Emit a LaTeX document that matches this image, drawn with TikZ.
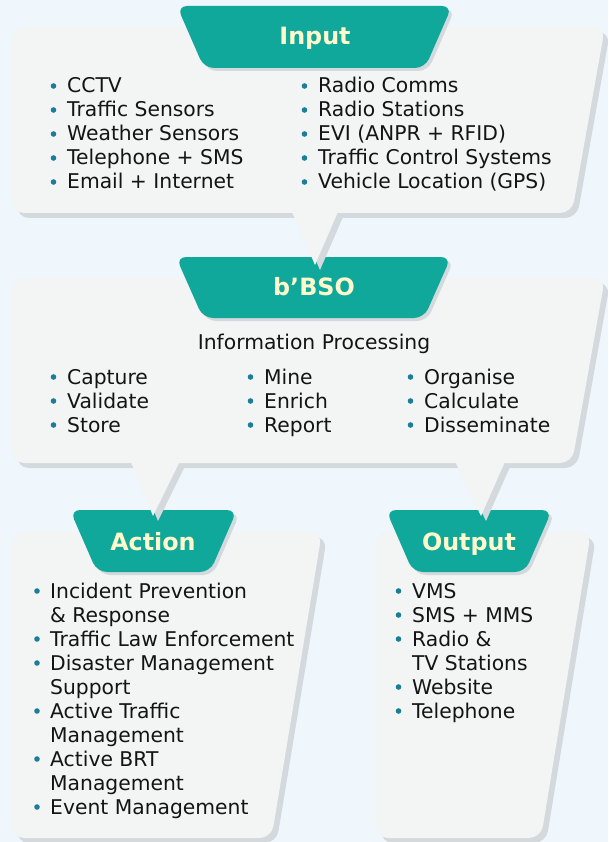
\documentclass[tikz,border=0pt]{standalone}
\usepackage{fontspec}
\setmainfont{DejaVu Sans}
\definecolor{bgc}{HTML}{EFF7FC}
\definecolor{panelc}{HTML}{F3F4F4}
\definecolor{shadec}{HTML}{D3D9DC}
\definecolor{tealc}{HTML}{10A89B}
\definecolor{titlec}{HTML}{FFF9CC}
\definecolor{bulc}{HTML}{1B7D96}
\definecolor{txtc}{HTML}{141414}
\begin{document}
\begin{tikzpicture}[x=1pt,y=-1pt,
  panelround/.style={rounded corners=12pt},
  tabshape/.style={rounded corners=10pt},
  bulletdot/.style={fill=bulc},
  titletext/.style={font=\fontsize{23.8}{28}\selectfont\bfseries, text=titlec, inner sep=0pt, anchor=base},
  listtext/.style={font=\fontsize{20.3}{24}\selectfont, text=txtc, inner sep=0pt, anchor=base west},
  headtext/.style={font=\fontsize{20.3}{24}\selectfont, text=txtc, inner sep=0pt, anchor=base}]
\useasboundingbox (0,0) rectangle (608,842);
\fill[bgc] (0,0) rectangle (608,842);

% ---------- Action and Output panels ----------
\foreach \d/\c in {5/shadec,0/panelc}{
  \fill[\c, panelround, shift={(\d,\d)}] (12,532) -- (322,532) -- (271.5,838) -- (12,838) -- cycle;
  \fill[\c, panelround, shift={(\d,\d)}] (376,532) -- (591,532) -- (541,838) -- (376,838) -- cycle;
}
% tabs Action / Output
\foreach \d/\c in {3/shadec,0/tealc}{
  \fill[\c, tabshape, shift={(\d,\d)}] (70,510) -- (237,510) -- (210,572) -- (97,572) -- cycle;
  \fill[\c, tabshape, shift={(\d,\d)}] (386,510) -- (552,510) -- (525,572) -- (413,572) -- cycle;
}

% ---------- b'BSO panel ----------
\foreach \d/\c in {5/shadec,0/panelc}{
  \fill[\c, panelround, shift={(\d,\d)}] (12,278) -- (605,278) -- (572,463) -- (12,463) -- cycle;
  \fill[\c, shift={(\d,\d)}] (128,455) -- (153,516) -- (183,455) -- cycle;
  \fill[\c, shift={(\d,\d)}] (452,455) -- (481,516) -- (508,455) -- cycle;
}
\foreach \d/\c in {3/shadec,0/tealc}{
  \fill[\c, tabshape, shift={(\d,\d)}] (176,257) -- (451,257) -- (424,318) -- (203,318) -- cycle;
}

% ---------- Input panel ----------
\foreach \d/\c in {5/shadec,0/panelc}{
  \fill[\c, panelround, shift={(\d,\d)}] (12,27) -- (605,27) -- (572,213) -- (12,213) -- cycle;
  \fill[\c, shift={(\d,\d)}] (289,205) -- (315,265) -- (341,205) -- cycle;
}
\foreach \d/\c in {3/shadec,0/tealc}{
  \fill[\c, tabshape, shift={(\d,\d)}] (177,6) -- (452,6) -- (425,68) -- (204,68) -- cycle;
}

% ---------- titles ----------
\node[titletext] (tinput) at (315,45) {Input};
\node[titletext] (tbbso) at (314,295) {b’BSO};
\node[titletext] (taction) at (153,550) {Action};
\node[titletext] (toutput) at (469,550) {Output};

% ---------- bullets ----------
\foreach \x in {53.5,304.5}
  \foreach \y in {86,110,134,158,182}
    \fill[bulletdot] (\x,\y) circle (2.8);
\foreach \x in {53.5,250.5,410.5}
  \foreach \y in {377,401,425}
    \fill[bulletdot] (\x,\y) circle (2.8);
\foreach \y in {591,639,663,711,759,807}
  \fill[bulletdot] (37,\y) circle (2.8);
\foreach \y in {591,615,639,687,711}
  \fill[bulletdot] (398.5,\y) circle (2.8);

% ---------- Input lists ----------
\node[listtext] (in1) at (67,93) {\begin{tabular}[t]{@{}l@{}}
CCTV\\ Traffic Sensors\\ Weather Sensors\\ Telephone + SMS\\ Email + Internet
\end{tabular}};
\node[listtext] (in2) at (318,93) {\begin{tabular}[t]{@{}l@{}}
Radio Comms\\ Radio Stations\\ EVI (ANPR + RFID)\\ Traffic Control Systems\\ Vehicle Location (GPS)
\end{tabular}};

% ---------- b'BSO content ----------
\node[headtext] (ip) at (314,349) {Information Processing};
\node[listtext] (bb1) at (67,384) {\begin{tabular}[t]{@{}l@{}}
Capture\\ Validate\\ Store
\end{tabular}};
\node[listtext] (bb2) at (264,384) {\begin{tabular}[t]{@{}l@{}}
Mine\\ Enrich\\ Report
\end{tabular}};
\node[listtext] (bb3) at (424,384) {\begin{tabular}[t]{@{}l@{}}
Organise\\ Calculate\\ Disseminate
\end{tabular}};

% ---------- Action list ----------
\node[listtext] (act) at (50,598) {\begin{tabular}[t]{@{}l@{}}
Incident Prevention\\ \& Response\\ Traffic Law Enforcement\\ Disaster Management\\ Support\\
Active Traffic\\ Management\\ Active BRT\\ Management\\ Event Management
\end{tabular}};

% ---------- Output list ----------
\node[listtext] (out) at (412,598) {\begin{tabular}[t]{@{}l@{}}
VMS\\ SMS + MMS\\ Radio \&\\ TV Stations\\ Website\\ Telephone
\end{tabular}};
\end{tikzpicture}
\end{document}
